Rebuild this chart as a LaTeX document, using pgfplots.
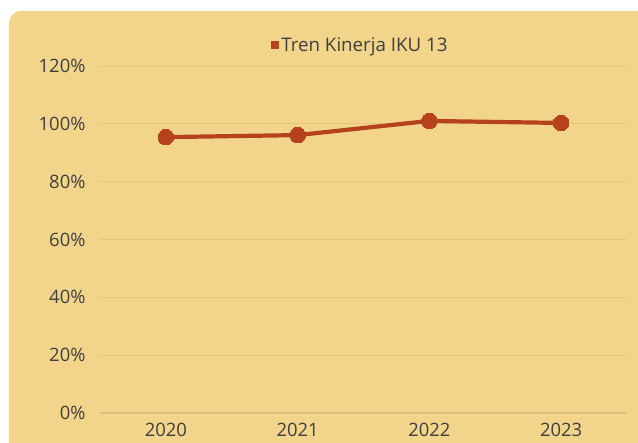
\documentclass[border=0pt]{standalone}
\usepackage{fontspec}
\setmainfont{Open Sans}
\usepackage{pgfplots}
\pgfplotsset{compat=1.18}
\definecolor{panel}{HTML}{F2D58A}
\definecolor{gridc}{HTML}{E4C67D}
\definecolor{basec}{HTML}{D8BB78}
\definecolor{linec}{HTML}{B5421C}
\definecolor{txt}{HTML}{3F3F3F}

\begin{document}
\begin{tikzpicture}[x=1bp,y=1bp]
% page = 638x443, axis box sits at (0,0)-(527,347)
\useasboundingbox (-100,-30) rectangle (538,413);
\fill[white] (-100,-30) rectangle (538,413);
\begin{scope}
\clip (-100,-30) rectangle (538,413);
\fill[panel, rounded corners=12bp] (-91,-80) rectangle (570,402);
\end{scope}
\begin{axis}[
  scale only axis, width=527bp, height=347bp,
  xmin=-0.5, xmax=3.5, ymin=0, ymax=120,
  xtick={0,1,2,3}, xticklabels={2020,2021,2022,2023},
  ytick={0,20,40,60,80,100,120},
  yticklabel={\pgfmathprintnumber{\tick}\%},
  /pgf/number format/assume math mode=true,
  axis line style={draw=none},
  major tick length=0pt,
  ymajorgrids, grid style={gridc, line width=0.8bp},
  tick label style={font=\fontsize{18.5}{20}\selectfont, text=txt},
  yticklabel style={xshift=-11bp},
  xticklabel style={yshift=-7bp},
  legend style={at={(axis description cs:0.324,1.06)}, anchor=west,
    draw=none, fill=none, font=\fontsize{18.8}{20}\selectfont, text=txt,
    inner sep=0pt, nodes={inner sep=2.5bp}},
  legend image code/.code={\fill[linec] (0bp,-1.8bp) rectangle (3.8bp,2bp);},
]
\draw[basec, line width=1bp] (axis cs:-0.5,0) -- (axis cs:3.5,0);
\addplot[linec, line width=4.2bp, mark=*, mark size=7.8bp,
  mark options={fill=linec, draw=linec, line width=0pt}]
  coordinates {(0,95.4) (1,96.1) (2,101.0) (3,100.3)};
\addlegendentry{Tren Kinerja IKU 13}
\end{axis}
\end{tikzpicture}
\end{document}
